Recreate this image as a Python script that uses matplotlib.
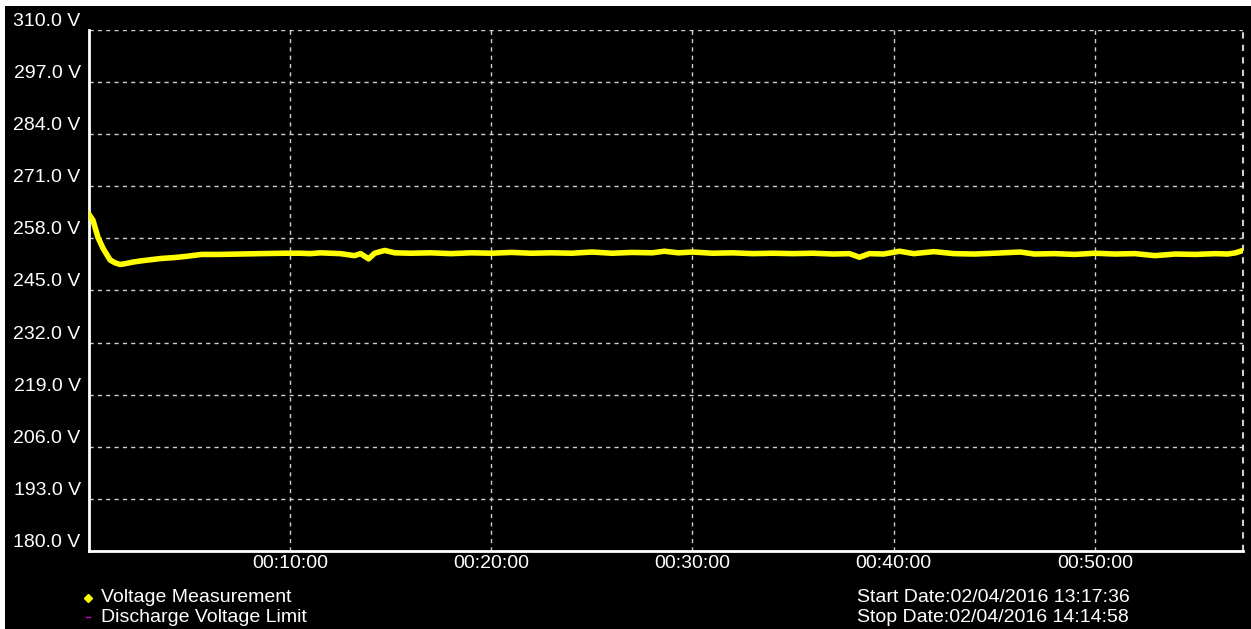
import matplotlib
matplotlib.use("Agg")
import matplotlib.pyplot as plt
from matplotlib.patches import Rectangle
from matplotlib.lines import Line2D

plt.rcParams['font.family'] = ['Liberation Sans', 'DejaVu Sans']

# elapsed time in minutes and measured voltage
minutes = [0, 0.2, 0.45, 0.7, 1.05, 1.3, 1.55, 1.8, 2.2, 2.6, 3.1, 3.6, 4.2, 4.8,
           5.6, 6.5, 7.5, 8.5, 9.75, 10.5, 11.0, 11.5, 12.0, 12.5, 13.2, 13.5,
           13.9, 14.2, 14.7, 15.2, 16, 17, 18, 19, 20, 21, 22, 23, 24, 25, 26,
           27, 28, 28.6, 29.3, 30, 31, 32, 33, 34, 35, 36, 37, 37.8, 38.3, 38.8,
           39.5, 40.3, 41, 42, 43, 44, 45, 46.3, 47, 48, 49, 50, 51, 52, 53, 54,
           55, 56, 56.6, 57.0, 57.37]
volts = [264.0, 262.5, 258.2, 255.5, 252.6, 251.9, 251.5, 251.7, 252.1, 252.4,
         252.7, 253.0, 253.2, 253.5, 254.0, 254.0, 254.1, 254.2, 254.3, 254.3,
         254.2, 254.4, 254.3, 254.2, 253.7, 254.2, 252.9, 254.3, 255.0, 254.4,
         254.3, 254.4, 254.2, 254.4, 254.3, 254.5, 254.3, 254.4, 254.3, 254.6,
         254.3, 254.5, 254.4, 254.8, 254.4, 254.6, 254.3, 254.4, 254.2, 254.3,
         254.2, 254.3, 254.1, 254.2, 253.3, 254.2, 254.1, 254.8, 254.2, 254.7,
         254.2, 254.1, 254.3, 254.6, 254.1, 254.2, 254.0, 254.3, 254.1, 254.2,
         253.7, 254.1, 254.0, 254.2, 254.1, 254.4, 255.0]

y_ticks = [180, 193, 206, 219, 232, 245, 258, 271, 284, 297, 310]
x_ticks = [10, 20, 30, 40, 50]
x_labels = ['00:10:00', '00:20:00', '00:30:00', '00:40:00', '00:50:00']
duration = 57.37  # 13:17:36 -> 14:14:58

W, H = 1251, 629
fs = 14
fig = plt.figure(figsize=(W / 100, H / 100), dpi=100, facecolor='white')
fig.patches.append(Rectangle((5 / W, 0), 1 - 5 / W, 1 - 6 / H, transform=fig.transFigure,
                             facecolor='black', edgecolor='none', zorder=-10))

ax = fig.add_axes([89 / W, 1 - 551 / H, (1243 - 89) / W, (551 - 30) / H])
ax.set_facecolor('black')

ax.plot(minutes, volts, color='#ffff00', lw=4.0, solid_joinstyle='round', zorder=3)

ax.set_xlim(0, duration)
ax.set_ylim(180, 310)
ax.set_yticks(y_ticks)
ax.set_yticklabels(['%.1f V' % v for v in y_ticks])
ax.set_xticks(x_ticks)
ax.set_xticklabels(x_labels)

ax.grid(True, color='#d0d0d0', linestyle=(0, (3, 3)), linewidth=1.0)
ax.axvline(duration, color='#d0d0d0', linestyle=(0, (3, 3)), linewidth=1.5, clip_on=False)

for side in ['top', 'right']:
    ax.spines[side].set_visible(False)
for side in ['left', 'bottom']:
    ax.spines[side].set_color('white')
    ax.spines[side].set_linewidth(2)

ax.tick_params(axis='both', length=0, colors='white', labelsize=fs)
ax.tick_params(axis='y', pad=6)
ax.tick_params(axis='x', pad=3)
for lbl in ax.get_yticklabels():
    lbl.set_verticalalignment('bottom')

# legend
fig.add_artist(Line2D([88 / W], [1 - 598 / H], marker='D', markersize=4,
                      color='#ffff00', linestyle='none', transform=fig.transFigure))
fig.add_artist(Line2D([86 / W, 90 / W], [1 - 617 / H, 1 - 617 / H], color='#cc00cc',
                      lw=1, transform=fig.transFigure))
fig.text(101 / W, 1 - 598 / H, 'Voltage Measurement', color='white', fontsize=fs, va='center')
fig.text(101 / W, 1 - 617 / H, 'Discharge Voltage Limit', color='white', fontsize=fs, va='center')

fig.text(857 / W, 1 - 598 / H, 'Start Date:02/04/2016 13:17:36', color='white', fontsize=fs, va='center')
fig.text(857 / W, 1 - 617 / H, 'Stop Date:02/04/2016 14:14:58', color='white', fontsize=fs, va='center')

fig.savefig('out.png', dpi=100, facecolor='white')
